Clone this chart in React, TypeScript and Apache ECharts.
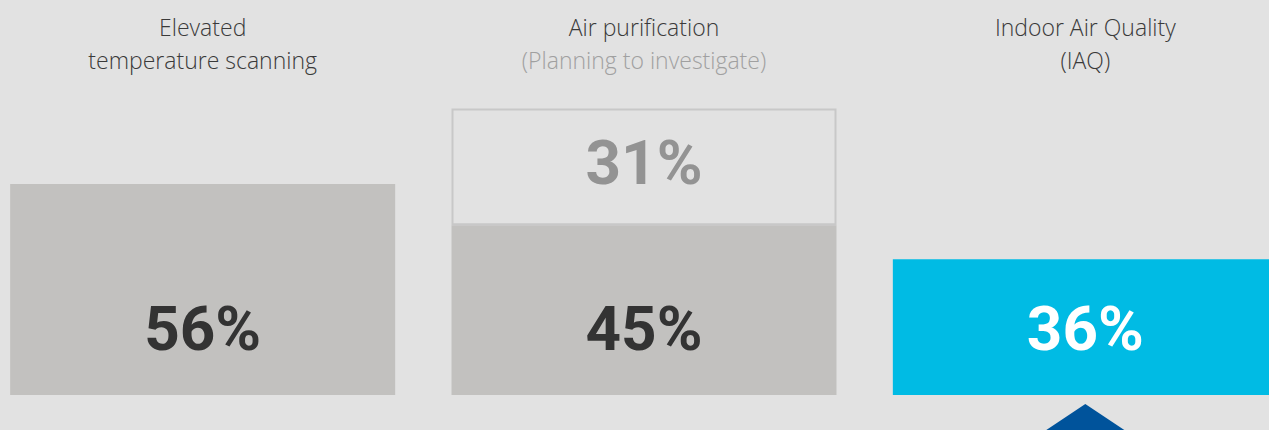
import React, { useEffect, useRef } from "react";
import * as echarts from "echarts";

const categories = [
  "{t|Elevated}\n{t|temperature scanning}",
  "{t|Air purification}\n{s|(Planning to investigate)}",
  "{t|Indoor Air Quality}\n{t|(IAQ)}",
];
const currentValues = [56, 45, 36];
const planningValues: (number | null)[] = [null, 31, null];
const barColors = ["#c2c1bf", "#c2c1bf", "#00bbe4"];
const labelColors = ["#333333", "#333333", "#ffffff"];

export default function App() {
  const ref = useRef<HTMLDivElement>(null);
  useEffect(() => {
    document.body.style.margin = "0";
    const chart = echarts.init(ref.current!, undefined, { renderer: "svg" });
    chart.setOption({
      animation: false,
      backgroundColor: "#e2e2e2",
      grid: { left: 0, right: 0, top: 18, bottom: 35 },
      xAxis: {
        type: "category",
        position: "top",
        data: categories,
        axisLine: { show: false },
        axisTick: { show: false },
        axisLabel: {
          interval: 0,
          margin: 8,
          verticalAlign: "top",
          rich: {
            t: { fontFamily: "Open Sans", fontWeight: 300, fontSize: 23, color: "#3a3a3a", lineHeight: 33 },
            s: { fontFamily: "Open Sans", fontWeight: 300, fontSize: 23, color: "#a0a0a0", lineHeight: 33 },
          },
        },
      },
      yAxis: { type: "value", min: 0, max: 100, show: false },
      series: [
        {
          type: "bar",
          stack: "a",
          barWidth: 385,
          data: currentValues.map((v, i) => ({
            value: v,
            itemStyle: { color: barColors[i] },
            label: { color: labelColors[i] },
          })),
          label: {
            show: true,
            position: "insideBottom",
            distance: 36,
            formatter: "{c}%",
            fontFamily: "Roboto",
            fontWeight: "bold",
            fontSize: 62,
            lineHeight: 62,
          },
          markPoint: {
            symbol: "triangle",
            symbolSize: [150, 50],
            symbolOffset: [0, 34],
            label: { show: false },
            itemStyle: { color: "#00539b" },
            data: [{ coord: [2, 0] }],
          },
        },
        {
          type: "bar",
          stack: "a",
          barWidth: 385,
          data: planningValues,
          itemStyle: { color: "#e2e2e2", borderColor: "#c8c8c8", borderWidth: 2 },
          label: {
            show: true,
            position: "inside",
            offset: [0, -4],
            formatter: "{c}%",
            fontFamily: "Roboto",
            fontWeight: "bold",
            fontSize: 62,
            color: "#939393",
          },
        },
      ],
    });
    return () => chart.dispose();
  }, []);
  return (
    <div
      ref={ref}
      style={{ position: "fixed", left: -18, top: 0, width: 1324, height: 430 }}
    />
  );
}
